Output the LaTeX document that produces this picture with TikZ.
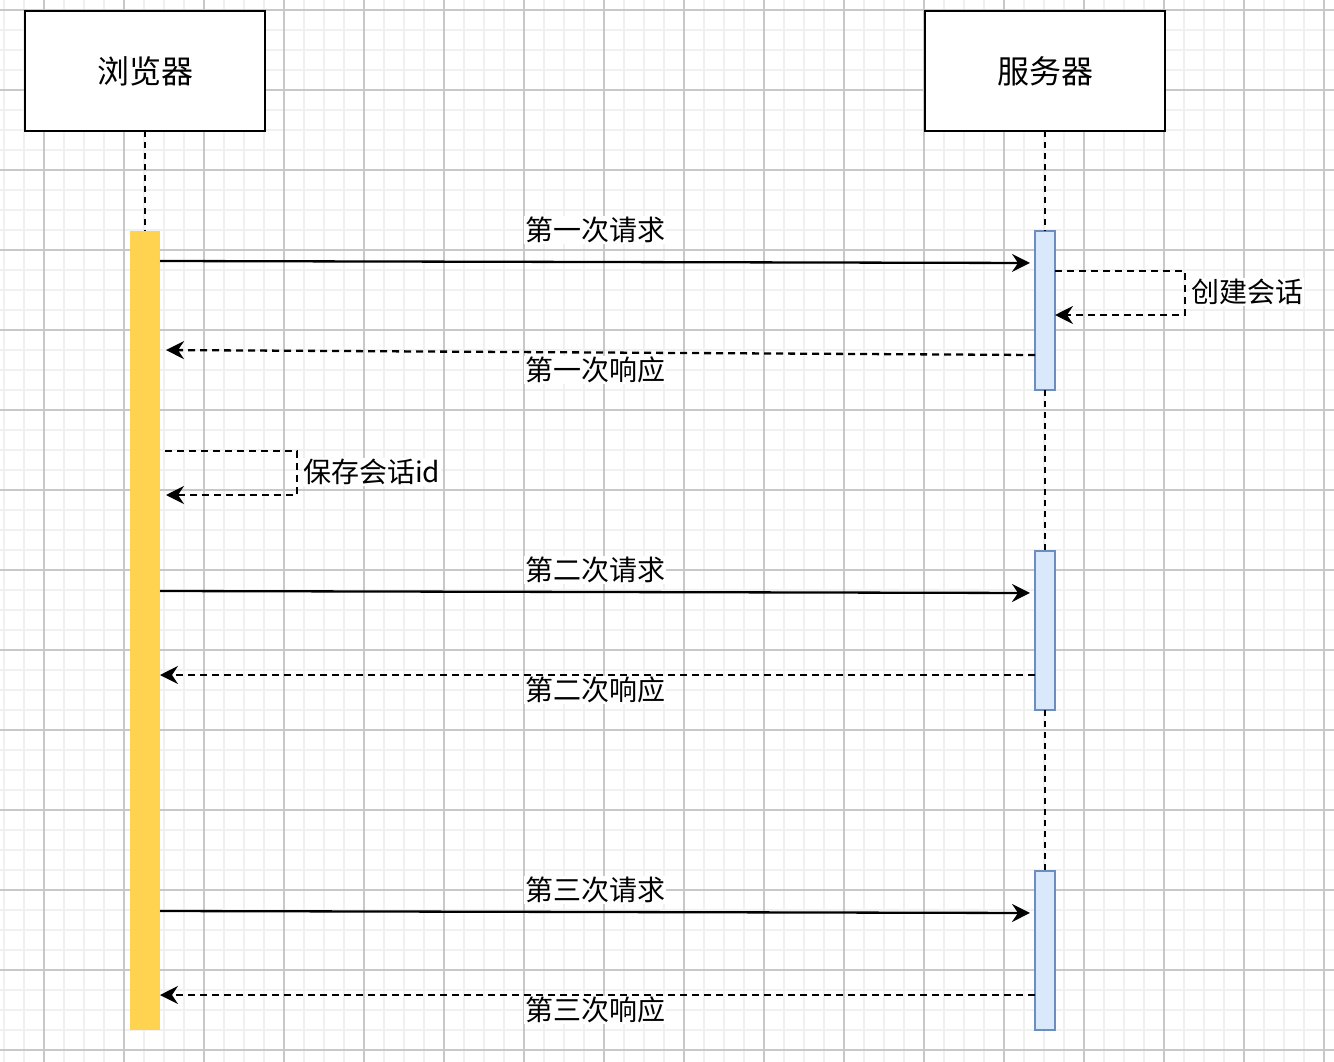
\documentclass[tikz,border=0pt]{standalone}
\usepackage{fontspec}
\setmainfont{Noto Sans CJK SC}
\usetikzlibrary{arrows.meta}
\definecolor{gridminor}{RGB}{240,240,240}
\definecolor{gridmajor}{RGB}{200,200,200}
\definecolor{actyellow}{RGB}{255,211,80}
\definecolor{actblue}{RGB}{218,232,252}
\definecolor{actborder}{RGB}{108,142,191}
\begin{document}
\begin{tikzpicture}[x=1pt,y=-1pt,
  party/.style={draw=black,line width=2.5pt,fill=white,minimum width=240pt,minimum height=120pt,inner sep=0pt,outer sep=0pt,font=\fontsize{32}{36}\selectfont},
  actY/.style={fill=actyellow,draw=none,minimum width=30pt,inner sep=0pt,outer sep=0pt},
  actB/.style={fill=actblue,draw=actborder,line width=2.2pt,minimum width=20pt,inner sep=0pt,outer sep=0pt},
  lifeline/.style={line width=2.4pt,dash pattern=on 6pt off 5pt},
  msg/.style={line width=2.3pt,-{Stealth[length=18pt,width=18pt,inset=6pt]}},
  reply/.style={msg,dash pattern=on 7pt off 5pt},
  lbl/.style={fill=white,inner sep=1pt,font=\fontsize{28}{32}\selectfont},
]
\useasboundingbox (0,0) rectangle (1334,1062);
\fill[white] (0,0) rectangle (1334,1062);
% grid
\foreach \x in {4,24,...,1334} \draw[gridminor,line width=1.5pt] (\x,0) -- (\x,1062);
\foreach \y in {10,30,...,1062} \draw[gridminor,line width=1.5pt] (0,\y) -- (1334,\y);
\foreach \x in {44,124,...,1334} \draw[gridmajor,line width=1.2pt] (\x,0) -- (\x,1062);
\foreach \y in {10,90,...,1062} \draw[gridmajor,line width=1.2pt] (0,\y) -- (1334,\y);

% participants
\node[party] (browser) at (145,71) {浏览器};
\node[party] (server) at (1045,71) {服务器};

% activations
\node[actY,minimum height=799pt] (ba) at (145,630.5) {};
\node[actB,minimum height=159pt] (s1) at (1045,310.5) {};
\node[actB,minimum height=159pt] (s2) at (1045,630.5) {};
\node[actB,minimum height=159pt] (s3) at (1045,950.5) {};

% lifelines
\draw[lifeline] (browser.south) -- (ba.north);
\draw[lifeline] (server.south) -- (s1.north);
\draw[lifeline] (s1.south) -- (s2.north);
\draw[lifeline] (s2.south) -- (s3.north);

% messages
\draw[msg,shorten >=5pt] (ba.east |- 0,261) -- (s1.west |- 0,263);
\node[lbl] (m1) at (595,230) {第一次请求};

\coordinate (c1a) at (1185,271);
\coordinate (c1b) at (1185,315);
\draw[reply] (s1.east |- c1a) -- (c1a) -- (c1b) -- (s1.east |- c1b);
\node[lbl,anchor=west] (m2) at (1190,292) {创建会话};

\draw[reply,shorten >=6pt] (s1.west |- 0,355) -- (ba.east |- 0,350);
\node[lbl] (m3) at (595,370) {第一次响应};

\coordinate (c2a) at (297,451);
\coordinate (c2b) at (297,495);
\draw[reply] ([xshift=5pt]ba.east |- c2a) -- (c2a) -- (c2b) -- ([xshift=6pt]ba.east |- c2b);
\node[lbl,anchor=west] (m4) at (302,472) {保存会话id};

\draw[msg,shorten >=5pt] (ba.east |- 0,591) -- (s2.west |- 0,593);
\node[lbl] (m5) at (595,570) {第二次请求};

\draw[reply] (s2.west |- 0,675) -- (ba.east |- 0,675);
\node[lbl] (m6) at (595,690) {第二次响应};

\draw[msg,shorten >=5pt] (ba.east |- 0,911) -- (s3.west |- 0,913);
\node[lbl] (m7) at (595,890) {第三次请求};

\draw[reply] (s3.west |- 0,995) -- (ba.east |- 0,995);
\node[lbl] (m8) at (595,1010) {第三次响应};
\end{tikzpicture}
\end{document}
